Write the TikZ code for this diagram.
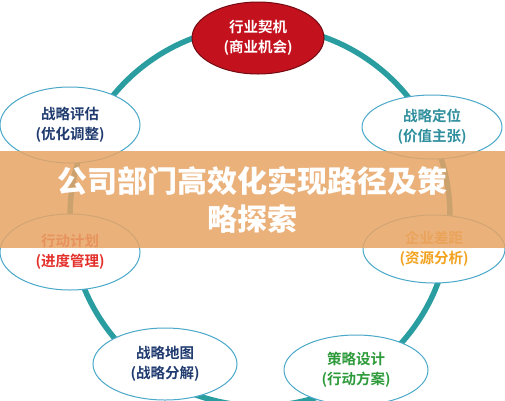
\documentclass[tikz,border=0pt]{standalone}
\usepackage{fontspec}
\IfFontExistsTF{Noto Sans CJK SC Bold}
  {\newfontfamily\cjk{Noto Sans CJK SC Bold}}
  {\newfontfamily\cjk{Noto Sans CJK SC}[FakeBold=2]}
\IfFontExistsTF{Noto Sans CJK SC Black}
  {\newfontfamily\cjkheavy{Noto Sans CJK SC Black}}
  {\newfontfamily\cjkheavy{Noto Sans CJK SC Bold}[FakeBold=1.5]}
\usetikzlibrary{shapes.geometric}
\definecolor{ring}{HTML}{2A9DA0}
\definecolor{eborder}{HTML}{4AA8C8}
\definecolor{navy}{HTML}{1F3A6E}
\definecolor{tealtxt}{HTML}{2F8F9D}
\definecolor{redtxt}{HTML}{E3302A}
\definecolor{orangetxt}{HTML}{F2A21E}
\definecolor{greentxt}{HTML}{2E9B3B}
\definecolor{redfill}{HTML}{C3121E}
\definecolor{banner}{HTML}{E8A465}
\tikzset{
  bubble/.style={ellipse, draw=eborder, line width=1pt, fill=white, inner sep=0pt,
    align=center, font=\cjk\fontsize{14.5}{20}\selectfont},
}
\begin{document}
\begin{tikzpicture}[x=1pt,y=-1pt]
\useasboundingbox (0,0) rectangle (505,400);
\fill[white] (0,0) rectangle (505,400);
\draw[ring, line width=5.5pt] (260,216) circle (190);
\node[bubble, fill=redfill, draw=redfill!60!black, text=white, minimum width=132pt, minimum height=72pt] (top) at (258,38) {行业契机\\(商业机会)};
\node[bubble, text=navy, minimum width=140pt, minimum height=76pt] (lu) at (70,125) {战略评估\\(优化调整)};
\node[bubble, text=tealtxt, minimum width=140pt, minimum height=64pt] (ru) at (432,127) {战略定位\\(价值主张)};
\node[bubble, text=redtxt, minimum width=140pt, minimum height=76pt] (ll) at (70,252) {行动计划\\(进度管理)};
\node[bubble, text=orangetxt, minimum width=142pt, minimum height=68pt] (rl) at (434,249) {企业差距\\(资源分析)};
\node[bubble, text=navy, minimum width=144pt, minimum height=72pt] (bl) at (165,364) {战略地图\\(战略分解)};
\node[bubble, text=greentxt, minimum width=144pt, minimum height=70pt] (br) at (356,370) {策略设计\\(行动方案)};
\fill[banner, opacity=0.85] (0,151) rectangle (505,248);
\node[text=white, align=center, font=\cjkheavy\fontsize{30}{38}\selectfont] (title) at (252,200) {公司部门高效化实现路径及策\\略探索};
\end{tikzpicture}
\end{document}
